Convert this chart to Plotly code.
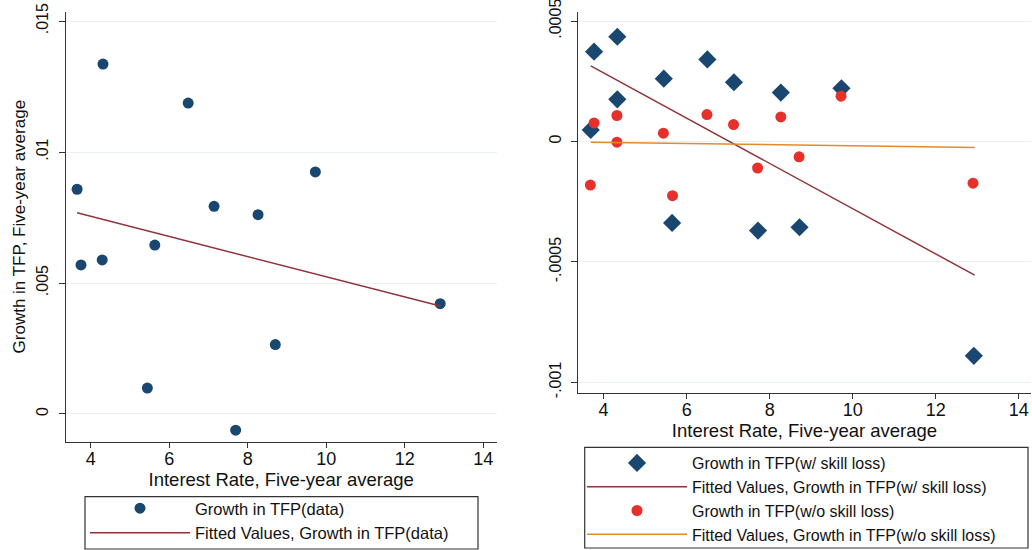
import plotly.graph_objects as go

# ---------------- data ----------------
rate_left = [3.65, 3.75, 4.31, 4.29, 5.44, 5.63, 6.48, 7.14, 7.69, 8.26, 8.70, 9.72, 12.90]
tfp_data = [0.00858, 0.00569, 0.01336, 0.00588, 0.00099, 0.00645, 0.01187, 0.00793,
            -0.00062, 0.00761, 0.00265, 0.00924, 0.00421]
fit_left_x = [3.65, 12.90]
fit_left_y = [0.00768, 0.00412]

rate_w = [3.69, 3.77, 4.33, 4.33, 5.45, 5.65, 6.50, 7.14, 7.72, 8.27, 8.72, 9.73, 12.92]
tfp_w = [0.0000483, 0.000373, 0.000435, 0.000175, 0.000261, -0.000338, 0.000341,
         0.000246, -0.000370, 0.000203, -0.000356, 0.000221, -0.000890]
rate_wo = [3.68, 3.77, 4.32, 4.32, 5.44, 5.66, 6.49, 7.13, 7.71, 8.27, 8.71, 9.72, 12.90]
tfp_wo = [-0.000181, 0.0000773, 0.000108, -0.000003, 0.0000345, -0.000225, 0.000112,
          0.0000704, -0.000110, 0.000102, -0.0000635, 0.000188, -0.000173]
fit_w_x = [3.69, 12.94]
fit_w_y = [0.000314, -0.000555]
fit_wo_x = [3.69, 12.94]
fit_wo_y = [-0.000003, -0.0000249]

x_ticks = [4, 6, 8, 10, 12, 14]
y_left_ticks = [0, 0.005, 0.01, 0.015]
y_left_text = ["0", ".005", ".01", ".015"]
y_right_ticks = [-0.001, -0.0005, 0, 0.0005]
y_right_text = ["-.001", "-.0005", "0", ".0005"]

# ---------------- style ----------------
NAVY = "#1a476f"
MAROON = "#90353b"
RED = "#e8302a"
ORANGE = "#e4892c"
GRID = "#e8f0f2"
AXIS = "#333333"
FONT = "Liberation Sans"

fig = go.Figure()

fig.add_trace(go.Scatter(x=rate_left, y=tfp_data, mode="markers", name="Growth in TFP(data)",
                         marker=dict(color=NAVY, size=11), xaxis="x", yaxis="y", legend="legend"))
fig.add_trace(go.Scatter(x=fit_left_x, y=fit_left_y, mode="lines",
                         name="Fitted Values, Growth in TFP(data)",
                         line=dict(color=MAROON, width=1.5), xaxis="x", yaxis="y", legend="legend"))

fig.add_trace(go.Scatter(x=rate_w, y=tfp_w, mode="markers", name="Growth in TFP(w/ skill loss)",
                         marker=dict(color=NAVY, size=14, symbol="diamond"),
                         xaxis="x2", yaxis="y2", legend="legend2"))
fig.add_trace(go.Scatter(x=fit_w_x, y=fit_w_y, mode="lines",
                         name="Fitted Values, Growth in TFP(w/ skill loss)",
                         line=dict(color=MAROON, width=1.5), xaxis="x2", yaxis="y2", legend="legend2"))
fig.add_trace(go.Scatter(x=rate_wo, y=tfp_wo, mode="markers", name="Growth in TFP(w/o skill loss)",
                         marker=dict(color=RED, size=11), xaxis="x2", yaxis="y2", legend="legend2"))
fig.add_trace(go.Scatter(x=fit_wo_x, y=fit_wo_y, mode="lines",
                         name="Fitted Values, Growth in TFP(w/o skill loss)",
                         line=dict(color=ORANGE, width=1.5), xaxis="x2", yaxis="y2", legend="legend2"))

W, H = 1032, 550

def px_x(p):
    return p / W

def px_y(p):
    return 1 - p / H

xcommon = dict(tickvals=x_ticks, ticks="outside", ticklen=5, tickcolor=AXIS, showline=True,
               linecolor=AXIS, linewidth=1.2, showgrid=False, zeroline=False, automargin=False,
               ticklabelstandoff=-4,
               tickfont=dict(family=FONT, size=18, color="#111"),
               title_font=dict(family=FONT, size=18.5, color="#111"))
ycommon = dict(ticks="outside", ticklen=6, tickcolor=AXIS, showline=True, linecolor=AXIS,
               linewidth=1.2, showgrid=True, gridcolor=GRID, gridwidth=1.2, zeroline=False,
               automargin=False, tickangle=-90, ticklabelstandoff=4, ticklabeloverflow="allow",
               tickfont=dict(family=FONT, size=16, color="#111"),
               title_font=dict(family=FONT, size=17, color="#111"))

fig.update_layout(
    width=W, height=H, margin=dict(l=0, r=0, t=0, b=0, autoexpand=False),
    paper_bgcolor="white", plot_bgcolor="white",
    font=dict(family=FONT, color="#111"),
    xaxis=dict(domain=[px_x(65.7), px_x(496.7)], range=[3.36, 14.34], anchor="y",
               title=dict(text="Interest Rate, Five-year average", standoff=2), **xcommon),
    yaxis=dict(domain=[px_y(441.7), px_y(11.7)], range=[-0.00106, 0.01536], anchor="x",
               tickvals=y_left_ticks, ticktext=y_left_text,
               title=dict(text="Growth in TFP, Five-year average", standoff=4), **ycommon),
    xaxis2=dict(domain=[px_x(578.3), px_x(1030.7)], range=[3.39, 14.29], anchor="y2",
                title=dict(text="Interest Rate, Five-year average", standoff=2), **xcommon),
    yaxis2=dict(domain=[px_y(392.7), px_y(11.7)], range=[-0.001043, 0.000539], anchor="x2",
                tickvals=y_right_ticks, ticktext=y_right_text, **ycommon),
    legend=dict(x=px_x(85), y=px_y(491), xanchor="left", yanchor="top",
                bgcolor="rgba(0,0,0,0)", borderwidth=0, itemwidth=100, tracegroupgap=0,
                font=dict(family=FONT, size=16.5, color="#111")),
    legend2=dict(x=px_x(582), y=px_y(446), xanchor="left", yanchor="top",
                 bgcolor="rgba(0,0,0,0)", borderwidth=0, itemwidth=100, tracegroupgap=0,
                 font=dict(family=FONT, size=16, color="#111")),
    shapes=[
        dict(type="rect", xref="paper", yref="paper", x0=px_x(85), x1=px_x(478),
             y0=px_y(549), y1=px_y(496.7), line=dict(color=AXIS, width=1.2), layer="below"),
        dict(type="rect", xref="paper", yref="paper", x0=px_x(584.7), x1=px_x(1028),
             y0=px_y(548), y1=px_y(447.3), line=dict(color=AXIS, width=1.2), layer="below"),
    ],
)

fig.write_html("out.html")
